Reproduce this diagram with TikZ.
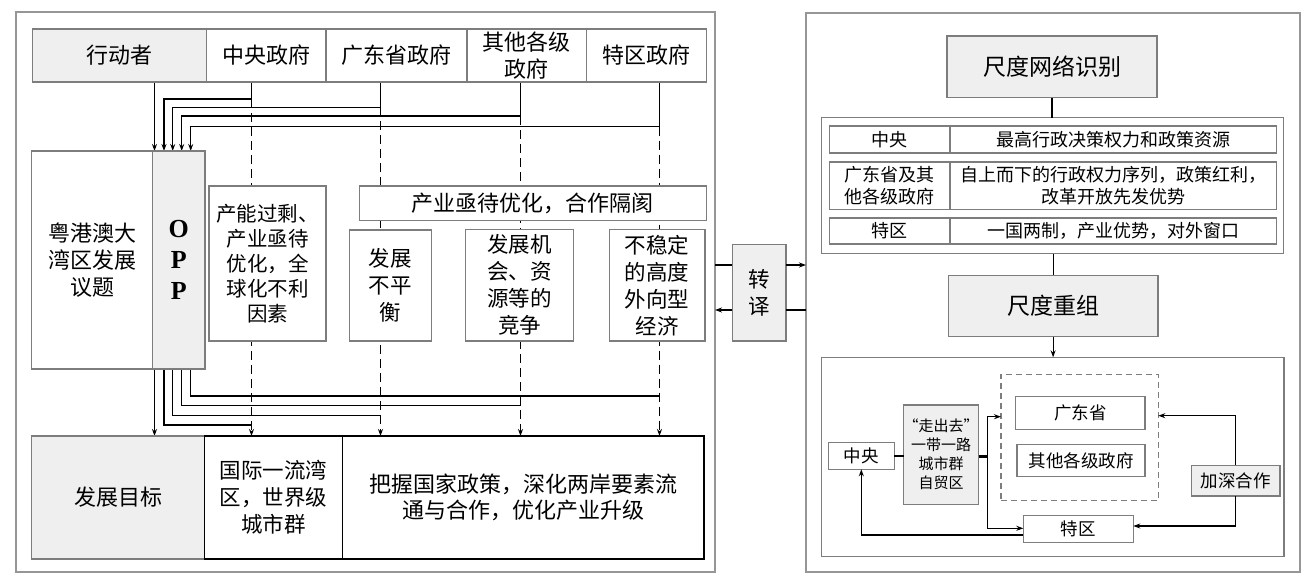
\documentclass[tikz,border=0pt]{standalone}
\usepackage{fontspec}
\setmainfont{Noto Sans CJK SC}
\newfontfamily\oppfont{Liberation Serif}
\usetikzlibrary{arrows.meta}
\pgfdeclarelayer{bg}
\pgfsetlayers{bg,main}
\definecolor{bd}{RGB}{125,125,125}
\definecolor{fr}{RGB}{150,150,150}
\definecolor{gf}{RGB}{239,239,239}
\begin{document}
\begin{tikzpicture}[x=1pt,y=-1pt,
  bx/.style={draw=bd,line width=1.3pt,fill=white,inner sep=0pt,outer sep=0pt,align=center,anchor=center},
  gbx/.style={bx,fill=gf},
  kbx/.style={bx,draw=black},
  frm/.style={draw=fr,line width=1.2pt,inner sep=0pt,outer sep=0pt},
  cn/.style={line width=1.2pt,black},
  ar/.style={cn,-{Stealth[length=7pt,width=5pt]}},
  dar/.style={ar,dash pattern=on 9pt off 5pt},
  fA/.style={font=\fontsize{22}{27}\selectfont},
  fB/.style={font=\fontsize{20.5}{25}\selectfont},
  fC/.style={font=\fontsize{21.5}{27}\selectfont},
  fT/.style={font=\fontsize{18}{21.5}\selectfont},
  fS/.style={font=\fontsize{17.5}{21}\selectfont},
  fZ/.style={font=\fontsize{15}{19}\selectfont},
  fH/.style={font=\fontsize{23}{28}\selectfont}
]
\useasboundingbox (0,0) rectangle (1315,584);
% frames
\node[frm,minimum width=699pt,minimum height=560pt] (lf) at (365.5,292) {};
\node[frm,minimum width=494pt,minimum height=559pt] (rf) at (1053,292.5) {};
% header
\node[gbx,fA,minimum width=174pt,minimum height=53pt] (h0) at (119.5,55.5) {行动者};
\node[bx,fA,minimum width=119.5pt,minimum height=53pt] (h1) at (266.25,55.5) {中央政府};
\node[bx,fA,minimum width=141pt,minimum height=53pt] (h2) at (396.5,55.5) {广东省政府};
\node[bx,fA,minimum width=119.5pt,minimum height=53pt] (h3) at (526.75,55.5) {其他各级\\政府};
\node[bx,fA,minimum width=120pt,minimum height=53pt] (h4) at (646.5,55.5) {特区政府};
% issue and OPP
\node[bx,fA,minimum width=121.2pt,minimum height=218pt] (yt) at (92.1,260) {粤港澳大\\湾区发展\\议题};
\node[gbx,font=\oppfont\bfseries\fontsize{26}{31}\selectfont,minimum width=52.3pt,minimum height=218pt] (opp) at (178.85,260) {O\\P\\P};
% middle boxes
\node[bx,fB,minimum width=117pt,minimum height=155pt] (m1) at (267.5,263.5) {产能过剩、\\产业亟待\\优化，全\\球化不利\\因素};
\node[bx,fA,minimum width=347.2pt,minimum height=34.7pt] (m0) at (532.8,203.35) {产业亟待优化，合作隔阂};
\node[bx,fC,minimum width=81.7pt,minimum height=111pt] (m2) at (390.35,285.5) {发展\\不平\\衡};
\node[bx,fC,minimum width=107.8pt,minimum height=111.7pt] (m3) at (519.5,285.2) {发展机\\会、资\\源等的\\竞争};
\node[bx,fC,minimum width=95.8pt,minimum height=111.7pt] (m4) at (657.1,285.2) {不稳定\\的高度\\外向型\\经济};
% goals
\node[gbx,fA,minimum width=173pt,minimum height=123pt] (g0) at (118,497.5) {发展目标};
\node[kbx,fC,minimum width=138.2pt,minimum height=123pt] (g1) at (273.6,497.5) {国际一流湾\\区，世界级\\城市群};
\node[kbx,font=\fontsize{22}{26}\selectfont,minimum width=361.3pt,minimum height=123pt] (g2) at (523.35,497.5) {把握国家政策，深化两岸要素流\\通与合作，优化产业升级};
% translation
\node[gbx,font=\fontsize{21.5}{27}\selectfont,minimum width=53.7pt,minimum height=96.7pt] (zy) at (759.15,292.65) {转\\译};
% right side
\node[gbx,fH,minimum width=210pt,minimum height=61.7pt] (s1) at (1052,66.85) {尺度网络识别};
\node[bx,minimum width=462.1pt,minimum height=136.3pt] (tbl) at (1052.75,185.65) {};
\node[bx,fT,minimum width=120.5pt,minimum height=27pt] (r1a) at (889.75,139.5) {中央};
\node[bx,fT,minimum width=326.6pt,minimum height=27pt] (r1b) at (1113.3,139.5) {最高行政决策权力和政策资源};
\node[bx,fT,minimum width=120.5pt,minimum height=47.5pt] (r2a) at (889.75,185.75) {广东省及其\\他各级政府};
\node[bx,fT,minimum width=326.6pt,minimum height=47.5pt] (r2b) at (1113.3,185.75) {自上而下的行政权力序列，政策红利，\\改革开放先发优势};
\node[bx,fT,minimum width=120.5pt,minimum height=26pt] (r3a) at (889.75,231) {特区};
\node[bx,fT,minimum width=326.6pt,minimum height=26pt] (r3b) at (1113.3,231) {一国两制，产业优势，对外窗口};
\node[gbx,fH,minimum width=209.8pt,minimum height=61.4pt] (s2) at (1053.1,306) {尺度重组};
\node[bx,minimum width=462.3pt,minimum height=199.4pt] (inn) at (1052.85,457) {};
\node[draw=bd,line width=1.3pt,dash pattern=on 6pt off 4pt,inner sep=0pt,outer sep=0pt,minimum width=157.3pt,minimum height=126.4pt] (db) at (1079.65,437.5) {};
\node[bx,fS,minimum width=129.3pt,minimum height=32.6pt] (gd) at (1080.35,413) {广东省};
\node[bx,fS,minimum width=128pt,minimum height=32.4pt] (qt) at (1081,460.5) {其他各级政府};
\node[bx,fS,minimum width=66pt,minimum height=26.6pt] (cz) at (861.3,456) {中央};
\node[gbx,fZ,minimum width=74.3pt,minimum height=99.3pt] (zc) at (941.15,454.65) {“走出去”\\一带一路\\城市群\\自贸区};
\node[bx,fS,minimum width=110pt,minimum height=26.6pt] (tq) at (1078.3,529) {特区};
\node[gbx,fS,minimum width=88.3pt,minimum height=30.7pt] (jq) at (1235.85,480.65) {加深合作};
% coordinates
\coordinate (A0) at (154.5,0);
\coordinate (A1) at (164,0);
\coordinate (A2) at (172.7,0);
\coordinate (A3) at (181.7,0);
\coordinate (A4) at (190.7,0);
\coordinate (j1) at (251.5,99);
\coordinate (j2) at (380.5,107.3);
\coordinate (j3) at (520.5,116);
\coordinate (j4) at (659.5,126.7);
\coordinate (k1) at (251.5,425);
\coordinate (k2) at (380.5,415.3);
\coordinate (k3) at (520.5,405.7);
\coordinate (k4) at (659.5,396);
\coordinate (u1) at (0,265);
\coordinate (u2) at (0,310);
\coordinate (v0) at (987.3,456.5);
\coordinate (v1) at (987.3,416.7);
\coordinate (v2) at (987.3,528.3);
\coordinate (w1) at (0,535);
\coordinate (w2) at (0,415.7);
\coordinate (w3) at (0,526);
\begin{pgfonlayer}{bg}
\draw[ar] (h0.south -| A0) -- (opp.north -| A0);
\draw[ar] (h1.south -| j1) -- (j1) -| (opp.north -| A1);
\draw[ar] (h2.south -| j2) -- (j2) -| (opp.north -| A2);
\draw[ar] (h3.south -| j3) -- (j3) -| (opp.north -| A3);
\draw[ar] (h4.south -| j4) -- (j4) -| (opp.north -| A4);
\draw[dar] (j1) -- (g1.north -| j1);
\draw[dar] (j2) -- (g2.north -| j2);
\draw[dar] (j3) -- (g2.north -| j3);
\draw[dar] (j4) -- (g2.north -| j4);
\draw[ar] (opp.south -| A0) -- (g0.north -| A0);
\draw[cn] (opp.south -| A1) |- (k1);
\draw[cn] (opp.south -| A2) |- (k2);
\draw[cn] (opp.south -| A3) |- (k3);
\draw[cn] (opp.south -| A4) |- (k4);
\end{pgfonlayer}
% translation arrows
\draw[cn] (lf.east |- u1) -- (zy.west |- u1);
\draw[ar] (zy.east |- u1) -- (rf.west |- u1);
\draw[cn] (rf.west |- u2) -- (zy.east |- u2);
\draw[ar] (zy.west |- u2) -- (lf.east |- u2);
% right connectors
\draw[cn] (s1.south) -- (s1.south |- tbl.north);
\draw[cn] (tbl.south -| s2.north) -- (s2.north);
\draw[ar] (s2.south) -- (s2.south |- inn.north);
\draw[cn] (cz.east) -- (zc.west |- cz.east);
\draw[black,line width=2.8pt] (zc.east |- v0) -- (v0);
\draw[ar] (v2) -- (v1) -- (db.west |- v1);
\draw[ar] (v1) -- (v2) -- (tq.west |- v2);
\draw[ar] (tq.west |- w1) -| (cz.south);
\draw[ar] (jq.north) |- (db.east |- w2);
\draw[ar] (jq.south) |- (tq.east |- w3);
\end{tikzpicture}
\end{document}
